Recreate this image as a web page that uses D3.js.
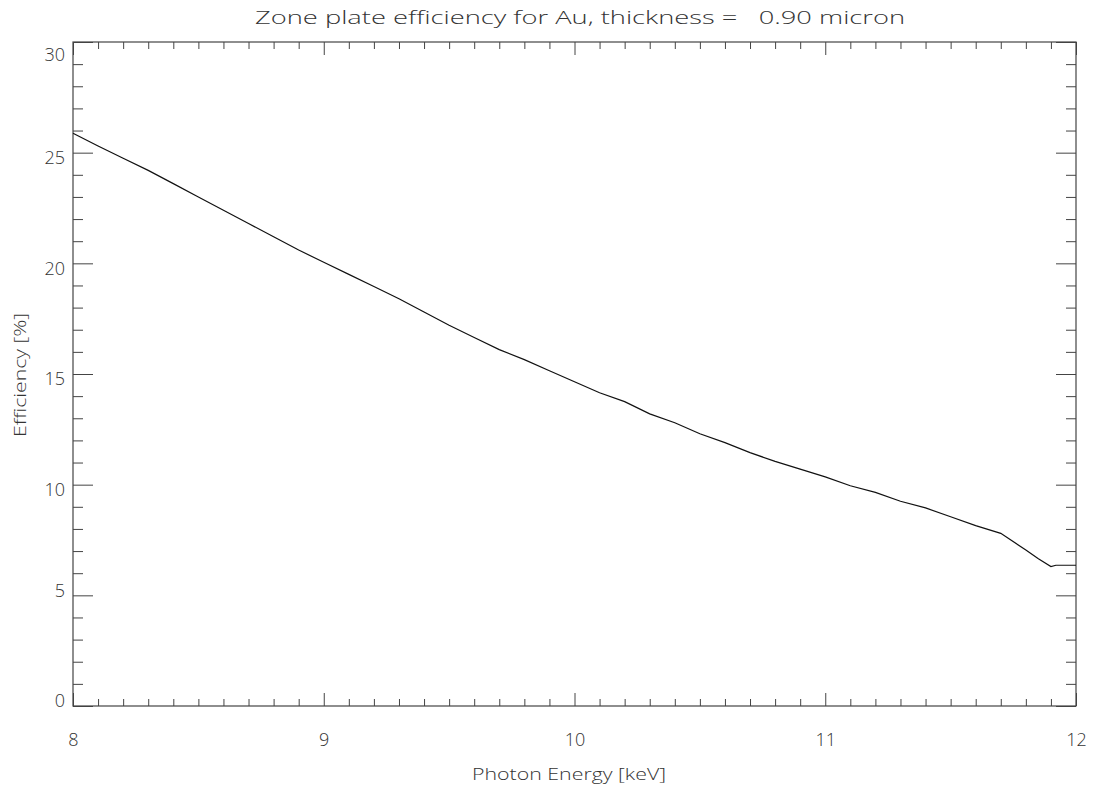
<!DOCTYPE html>
<html>
<head>
<meta charset="utf-8">
<script src="https://cdn.jsdelivr.net/npm/d3@7"></script>
<style>
  html, body { margin: 0; padding: 0; background: #fff; }
  svg { display: block; }
  text { font-family: "Open Sans", "DejaVu Sans", sans-serif; font-weight: 300; fill: #333; }
</style>
</head>
<body>
<svg id="chart" width="1094" height="793"></svg>
<script>
// ---- data ----
const energy = [8.0, 8.1, 8.2, 8.3, 8.4, 8.5, 8.6, 8.7, 8.8, 8.9,
                9.0, 9.1, 9.2, 9.3, 9.4, 9.5, 9.6, 9.7, 9.8, 9.9,
                10.0, 10.1, 10.2, 10.3, 10.4, 10.5, 10.6, 10.7, 10.8, 10.9,
                11.0, 11.1, 11.2, 11.3, 11.4, 11.5, 11.6, 11.7, 11.8, 11.85,
                11.9, 11.92, 12.0];
const efficiency = [25.88, 25.3, 24.75, 24.2, 23.6, 23.0, 22.4, 21.8, 21.2, 20.6,
                    20.05, 19.5, 18.95, 18.4, 17.8, 17.2, 16.65, 16.1, 15.65, 15.15,
                    14.65, 14.15, 13.75, 13.2, 12.8, 12.3, 11.9, 11.45, 11.05, 10.7,
                    10.35, 9.95, 9.65, 9.25, 8.95, 8.55, 8.15, 7.8, 7.05, 6.65,
                    6.3, 6.36, 6.36];
const xTicks = [8, 9, 10, 11, 12];
const yTicks = [0, 5, 10, 15, 20, 25, 30];
const titleText = "Zone plate efficiency for Au, thickness =   0.90 micron";
const xTitle = "Photon Energy [keV]";
const yTitle = "Efficiency [%]";

// ---- layout ----
const svg = d3.select("#chart");
const L = 73, R = 1076, T = 42, B = 706;
const x = d3.scaleLinear().domain([8, 12]).range([L, R]);
const y = d3.scaleLinear().domain([0, 30]).range([B, T]);
const axisColor = "#444";

const xMinor = d3.range(8, 12.0001, 0.1).map(v => +v.toFixed(2)).filter(v => !xTicks.includes(v));
const yMinor = d3.range(0, 30.0001, 1).filter(v => !yTicks.includes(v));

function styleAxis(g) {
  g.select(".domain").remove();
  g.selectAll("line").attr("stroke", axisColor).attr("stroke-width", 1);
  g.selectAll("text").style("font-size", "18px").attr("fill", "#333")
    .style("font-family", "'Open Sans', 'DejaVu Sans', sans-serif").style("font-weight", 300);
}

// bottom axis
svg.append("g").attr("transform", `translate(0,${B})`)
  .call(d3.axisBottom(x).tickValues(xTicks).tickSize(-13).tickPadding(27).tickFormat(d3.format("d")))
  .call(styleAxis);
svg.append("g").attr("transform", `translate(0,${B})`)
  .call(d3.axisBottom(x).tickValues(xMinor).tickSize(-7).tickFormat(""))
  .call(styleAxis);
// top axis
svg.append("g").attr("transform", `translate(0,${T})`)
  .call(d3.axisTop(x).tickValues(xTicks).tickSize(-13).tickFormat(""))
  .call(styleAxis);
svg.append("g").attr("transform", `translate(0,${T})`)
  .call(d3.axisTop(x).tickValues(xMinor).tickSize(-7).tickFormat(""))
  .call(styleAxis);
// left axis
const yLab = svg.append("g").attr("transform", `translate(${L},0)`)
  .call(d3.axisLeft(y).tickValues(yTicks).tickSize(-20).tickPadding(8).tickFormat(d3.format("d")))
  .call(styleAxis);
yLab.selectAll("text").attr("dy", d => d === 0 ? "-0.0em" : d === 30 ? "1.0em" : d === 5 ? "0.08em" : "0.6em");
svg.append("g").attr("transform", `translate(${L},0)`)
  .call(d3.axisLeft(y).tickValues(yMinor).tickSize(-10).tickFormat(""))
  .call(styleAxis);
// right axis
svg.append("g").attr("transform", `translate(${R},0)`)
  .call(d3.axisRight(y).tickValues(yTicks).tickSize(-20).tickFormat(""))
  .call(styleAxis);
svg.append("g").attr("transform", `translate(${R},0)`)
  .call(d3.axisRight(y).tickValues(yMinor).tickSize(-10).tickFormat(""))
  .call(styleAxis);

// frame
svg.append("rect").attr("x", L).attr("y", T).attr("width", R - L).attr("height", B - T)
  .attr("fill", "none").attr("stroke", axisColor).attr("stroke-width", 1.2);

// line
const data = energy.map((e, i) => ({ e, v: efficiency[i] }));
svg.append("path").datum(data)
  .attr("fill", "none").attr("stroke", "#111").attr("stroke-width", 1.2)
  .attr("d", d3.line().x(d => x(d.e)).y(d => y(d.v)));

// titles
svg.append("text").attr("x", 255).attr("y", 24)
  .attr("text-anchor", "start").style("font-size", "19px")
  .attr("xml:space", "preserve").style("white-space", "pre")
  .attr("textLength", 650).attr("lengthAdjust", "spacingAndGlyphs")
  .text(titleText);
svg.append("text").attr("x", 472).attr("y", 780)
  .attr("text-anchor", "start").style("font-size", "17px")
  .attr("textLength", 194).attr("lengthAdjust", "spacingAndGlyphs")
  .text(xTitle);
svg.append("text").attr("transform", `translate(26,437) rotate(-90)`)
  .attr("text-anchor", "start").style("font-size", "17px")
  .attr("textLength", 124).attr("lengthAdjust", "spacingAndGlyphs")
  .text(yTitle);
</script>
</body>
</html>
